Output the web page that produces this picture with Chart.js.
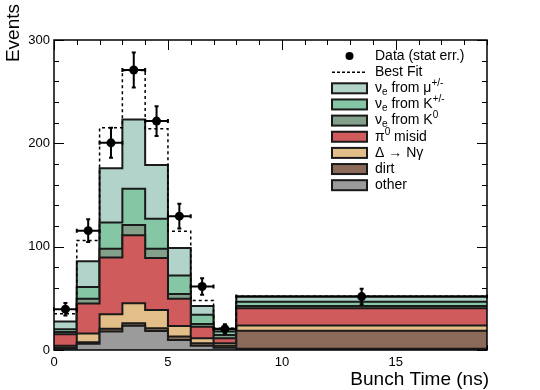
<!DOCTYPE html>
<html>
<head>
<meta charset="utf-8">
<script src="https://cdn.jsdelivr.net/npm/chart.js@4.4.0/dist/chart.umd.min.js"></script>
<style>
  html, body { margin: 0; padding: 0; background: #fff; }
  canvas { display: block; }
</style>
</head>
<body>
<canvas id="chart" width="540" height="390"></canvas>
<script>
// bunch time histogram, variable width bins (last bin 8-19 ns)
const binEdges = [0, 1, 2, 3, 4, 5, 6, 7, 8, 19];
const binCenters = [0.5, 1.5, 2.5, 3.5, 4.5, 5.5, 6.5, 7.5, 13.5];

// stack components, bottom to top
const other    = [1.5, 6, 18, 23.5, 18.5, 9.7, 4.2, 2.2, 1.2];
const dirt     = [1.0, 1.5, 2.5, 2.5, 2.5, 3.3, 2.3, 2.0, 17.5];
const deltaNg  = [1.7, 8.5, 14.1, 19.3, 17.8, 10.3, 4.8, 2.3, 4.9];
const pi0Misid = [11.0, 29, 54.9, 65.7, 50.2, 26.2, 11.3, 4.8, 16.8];
const nueK0    = [2.3, 4.5, 8.5, 10, 9, 4.8, 2.6, 3.2, 2.3];
const nueKpm   = [2.5, 11.5, 25.5, 35, 29, 17.7, 8.8, 3.3, 4.1];
const nueMu    = [7.5, 25, 52.5, 67, 52, 26.6, 8.7, 2.2, 4.9];

const bestFit  = [35, 106, 215, 270.5, 214, 115, 48, 21, 52];
const dataVals = [39.5, 115.5, 200.5, 271, 221.5, 129.5, 61.5, 20.5, 51.7];
const dataErr  = [6, 11, 14.5, 17, 14.5, 12, 8, 4.5, 7.5];

const xTicks = [0, 5, 10, 15];
const yTicks = [0, 100, 200, 300];

const FONT = '"Liberation Sans", Arial, Helvetica, sans-serif';

// legend text pieces: [text, 'sub'|'sup'|undefined]
const layers = [
  { name: 'other',    vals: other,    color: '#9b9b9b', label: [['other']] },
  { name: 'dirt',     vals: dirt,     color: '#8b6a5a', label: [['dirt']] },
  { name: 'delta',    vals: deltaNg,  color: '#e2be88', label: [['\u0394 \u2192 N\u03b3']] },
  { name: 'pi0',      vals: pi0Misid, color: '#d05b5d', label: [['\u03c0'], ['0', 'sup'], [' misid']] },
  { name: 'nueK0',    vals: nueK0,    color: '#82a08a', label: [['\u03bd'], ['e', 'sub'], [' from K'], ['0', 'sup']] },
  { name: 'nueKpm',   vals: nueKpm,   color: '#85c6a4', label: [['\u03bd'], ['e', 'sub'], [' from K'], ['+/-', 'sup']] },
  { name: 'nueMu',    vals: nueMu,    color: '#b2d3c9', label: [['\u03bd'], ['e', 'sub'], [' from \u03bc'], ['+/-', 'sup']] }
];

function histPoints(vals) {
  return binEdges.map((e, i) => ({ x: e, y: vals[Math.min(i, vals.length - 1)] }));
}

// cumulative sums for the stack
const stackDatasets = [];
let running = new Array(binCenters.length).fill(0);
layers.forEach(l => {
  running = running.map((v, i) => v + l.vals[i]);
  stackDatasets.push({
    label: l.name,
    data: histPoints(running.slice()),
    stepped: 'before',
    borderColor: '#1a1a1a',
    borderWidth: 2,
    backgroundColor: l.color,
    fill: 'origin',
    pointRadius: 0,
    tension: 0
  });
});

const datasets = [
  {
    label: 'Data',
    data: binCenters.map((c, i) => ({ x: c, y: dataVals[i] })),
    showLine: false,
    pointRadius: 4.5,
    pointBackgroundColor: '#000',
    pointBorderColor: '#000',
    borderWidth: 0
  },
  {
    label: 'Best Fit',
    data: histPoints(bestFit),
    stepped: 'before',
    borderColor: '#000',
    borderWidth: 1.5,
    borderDash: [3, 3],
    fill: false,
    pointRadius: 0
  }
].concat(stackDatasets);

// inward ticks on all four sides (drawn under the histograms)
const axisTicks = {
  id: 'axisTicks',
  beforeDatasetsDraw(chart) {
    const { ctx, chartArea: a, scales: { x, y } } = chart;
    ctx.save();
    ctx.strokeStyle = '#000';
    ctx.lineWidth = 1;
    ctx.beginPath();
    for (let t = 0; t <= 19; t++) {
      const px = Math.round(x.getPixelForValue(t)) + 0.5;
      const len = t % 5 === 0 ? 10 : 5;
      ctx.moveTo(px, a.bottom); ctx.lineTo(px, a.bottom - len);
      ctx.moveTo(px, a.top); ctx.lineTo(px, a.top + len);
    }
    for (let v = 0; v <= 300; v += 20) {
      const py = Math.round(y.getPixelForValue(v)) + 0.5;
      const len = v % 100 === 0 ? 10 : 5;
      ctx.moveTo(a.left, py); ctx.lineTo(a.left + len, py);
      ctx.moveTo(a.right, py); ctx.lineTo(a.right - len, py);
    }
    ctx.stroke();
    ctx.restore();
  },
  afterDatasetsDraw(chart) {
    const { ctx, chartArea: a, scales: { x, y } } = chart;
    ctx.save();
    // error bars for the data points
    ctx.strokeStyle = '#000';
    ctx.lineWidth = 2;
    ctx.beginPath();
    binCenters.forEach((c, i) => {
      const px = x.getPixelForValue(c);
      const py = y.getPixelForValue(dataVals[i]);
      const lo = y.getPixelForValue(dataVals[i] - dataErr[i]);
      const hi = y.getPixelForValue(dataVals[i] + dataErr[i]);
      const xl = x.getPixelForValue(binEdges[i]);
      const xr = x.getPixelForValue(binEdges[i + 1]);
      ctx.moveTo(px, lo); ctx.lineTo(px, hi);
      ctx.moveTo(px - 2, lo); ctx.lineTo(px + 2, lo);
      ctx.moveTo(px - 2, hi); ctx.lineTo(px + 2, hi);
      ctx.moveTo(xl, py); ctx.lineTo(xr, py);
      ctx.moveTo(xl, py - 2); ctx.lineTo(xl, py + 2);
      ctx.moveTo(xr, py - 2); ctx.lineTo(xr, py + 2);
    });
    ctx.stroke();
    // frame
    ctx.lineWidth = 1.5;
    ctx.strokeRect(a.left, a.top, a.right - a.left, a.bottom - a.top);
    ctx.restore();
  }
};

// rich text helper for sub/superscripts
function drawRich(ctx, parts, x, y, size) {
  let cx = x;
  parts.forEach(p => {
    const kind = p[1];
    const fs = kind ? Math.round(size * 0.68) : size;
    const dy = kind === 'sub' ? 4 : kind === 'sup' ? -5 : 0;
    ctx.font = fs + 'px ' + FONT;
    ctx.fillText(p[0], cx, y + dy);
    cx += ctx.measureText(p[0]).width;
  });
}

const legendAndTitles = {
  id: 'legendAndTitles',
  afterDraw(chart) {
    const { ctx } = chart;
    ctx.save();
    ctx.fillStyle = '#000';
    ctx.textBaseline = 'middle';
    const boxL = 332, boxW = 35, boxH = 10, textX = 375, rowY0 = 56, rowStep = 16.15;
    // data marker
    ctx.beginPath();
    ctx.arc(boxL + boxW / 2, rowY0, 4, 0, Math.PI * 2);
    ctx.fill();
    drawRich(ctx, [['Data (stat err.)']], textX, rowY0, 14);
    // best fit
    ctx.strokeStyle = '#000';
    ctx.lineWidth = 1.5;
    ctx.setLineDash([3, 2]);
    ctx.beginPath();
    ctx.moveTo(boxL, rowY0 + rowStep); ctx.lineTo(boxL + boxW, rowY0 + rowStep);
    ctx.stroke();
    ctx.setLineDash([]);
    drawRich(ctx, [['Best Fit']], textX, rowY0 + rowStep, 14);
    // stack entries, top layer first
    layers.slice().reverse().forEach((l, k) => {
      const ry = rowY0 + rowStep * (k + 2);
      ctx.fillStyle = l.color;
      ctx.fillRect(boxL, ry - boxH / 2, boxW, boxH);
      ctx.strokeStyle = '#1a1a1a';
      ctx.lineWidth = 2;
      ctx.strokeRect(boxL, ry - boxH / 2, boxW, boxH);
      ctx.fillStyle = '#000';
      drawRich(ctx, l.label, textX, ry, 14);
    });
    // axis titles
    ctx.font = '19px ' + FONT;
    ctx.textBaseline = 'alphabetic';
    ctx.textAlign = 'right';
    ctx.fillText('Bunch Time (ns)', 489, 385);
    ctx.translate(19, 4);
    ctx.rotate(-Math.PI / 2);
    ctx.fillText('Events', 0, 0);
    ctx.restore();
  }
};

new Chart(document.getElementById('chart'), {
  type: 'line',
  data: { datasets },
  options: {
    responsive: false,
    animation: false,
    devicePixelRatio: 1,
    layout: { padding: { left: 0, top: 40, right: 53, bottom: 0 } },
    plugins: { legend: { display: false }, tooltip: { enabled: false } },
    scales: {
      x: {
        type: 'linear',
        min: 0,
        max: 19,
        grid: { display: false, drawTicks: false },
        border: { display: false },
        afterBuildTicks: s => { s.ticks = xTicks.map(v => ({ value: v })); },
        afterFit: s => { s.height = 40; },
        ticks: { color: '#000', font: { family: FONT, size: 13 }, padding: 5, maxRotation: 0 }
      },
      y: {
        type: 'linear',
        min: 0,
        max: 300,
        grid: { display: false, drawTicks: false },
        border: { display: false },
        afterBuildTicks: s => { s.ticks = yTicks.map(v => ({ value: v })); },
        afterFit: s => { s.width = 54; },
        ticks: { color: '#000', font: { family: FONT, size: 13 }, padding: 4 }
      }
    }
  },
  plugins: [axisTicks, legendAndTitles]
});
</script>
</body>
</html>
